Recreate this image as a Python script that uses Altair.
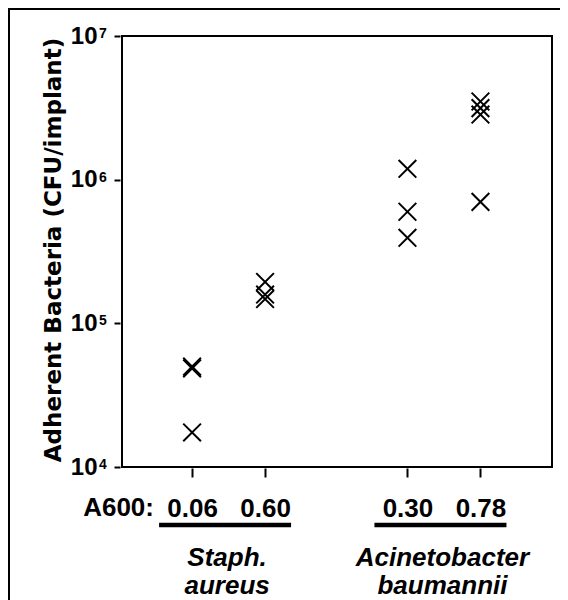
import altair as alt
import pandas as pd

# ---- data ----
group_labels = ["0.06", "0.60", "0.30", "0.78"]
group_pos = [1.0, 2.0, 3.95, 4.95]          # category slots along x
vals_006 = [50000, 48500, 17400]
vals_060 = [194000, 158700, 147600]
vals_030 = [1190000, 598000, 394000]
vals_078 = [3500000, 3150000, 2840000, 700000]

species = ["Staph.\naureus", "Acinetobacter\nbaumannii"]
species_start = [1.0, 3.95]
species_end = [2.0, 4.95]

ytick_vals = [1e4, 1e5, 1e6, 1e7]
ytick_exp = ["4", "5", "6", "7"]

all_vals = [vals_006, vals_060, vals_030, vals_078]
rows = []
for lab, pos, vs in zip(group_labels, group_pos, all_vals):
    for v in vs:
        rows.append({"group": lab, "pos": pos, "cfu": v})
pts = pd.DataFrame(rows)

sp = pd.DataFrame({"name": species, "start": species_start, "end": species_end})
yt = pd.DataFrame({"v": ytick_vals, "e": ytick_exp})

W, H = 430, 431
FONT = "Liberation Sans"

label_expr = "''"
for lab, pos in zip(group_labels, group_pos):
    label_expr = f"datum.value == {pos} ? '{lab}' : (" + label_expr + ")"

xscale = alt.Scale(domain=[0.04, 5.93], nice=False, zero=False)
yscale = alt.Scale(type="log", domain=[1e4, 1e7], nice=False)

xaxis = alt.Axis(values=group_pos, labelExpr=label_expr, title=None, grid=False,
                 domain=False, tickSize=9, offset=1, tickColor="black", tickWidth=2,
                 labelFont=FONT, labelFontSize=26, labelFontWeight="bold",
                 labelColor="black", labelPadding=18)
yaxis = alt.Axis(values=ytick_vals, labelExpr="'10'", title=None, grid=False,
                 domain=False, tickSize=6, offset=2, tickColor="black", tickWidth=2,
                 labelFont=FONT, labelFontSize=24, labelFontWeight="bold",
                 labelColor="black", labelPadding=17)

xmark = "M-1,-1L1,1M-1,1L1,-1"

points = alt.Chart(pts).mark_point(shape=xmark, size=313, filled=False,
                                   stroke="black", strokeWidth=2, opacity=1).encode(
    x=alt.X("pos:Q", scale=xscale, axis=xaxis),
    y=alt.Y("cfu:Q", scale=yscale, axis=yaxis),
)

supers = alt.Chart(yt).mark_text(font=FONT, fontSize=14, fontWeight="bold",
                                 align="left", baseline="alphabetic", dy=2,
                                 color="black").encode(
    x=alt.value(-23),
    y=alt.Y("v:Q", scale=yscale, axis=yaxis),
    text="e:N",
)

a600 = alt.Chart(pd.DataFrame({"t": ["A600:"]})).mark_text(
    font=FONT, fontSize=26, fontWeight="bold", align="right",
    baseline="alphabetic", color="black").encode(
    x=alt.value(32), y=alt.value(480), text="t:N")

underline = alt.Chart(sp).mark_rule(color="black", strokeWidth=4.5,
                                    xOffset=-33, x2Offset=26).encode(
    x=alt.X("start:Q", scale=xscale, axis=xaxis),
    x2="end:Q",
    y=alt.value(489),
)

sp_text = alt.Chart(sp).transform_calculate(
    mid="(datum.start + datum.end) / 2"
).mark_text(font=FONT, fontSize=26, fontWeight="bold", fontStyle="italic",
            lineBreak="\n", lineHeight=28, align="center", baseline="alphabetic",
            dx=-1.5, color="black").encode(
    x=alt.X("mid:Q", scale=xscale, axis=xaxis),
    y=alt.value(530),
    text="name:N",
)

ytitle = alt.Chart(pd.DataFrame({"t": ["Adherent Bacteria (CFU/implant)"]})).mark_text(
    font="DejaVu Sans", fontSize=23, fontWeight="bold", angle=270,
    align="center", baseline="middle", color="black").encode(
    x=alt.value(-68), y=alt.value(214), text="t:N")

border = alt.Chart(pd.DataFrame({"k": [0]})).mark_rect(
    filled=False, stroke="black", strokeWidth=2).encode(
    x=alt.value(-113), x2=alt.value(700), y=alt.value(-27), y2=alt.value(800))

chart = alt.layer(points, supers, a600, underline, sp_text, ytitle, border).properties(
    width=W, height=H,
    autosize=alt.AutoSizeParams(type="none"),
    padding={"left": 114, "top": 28, "right": 8, "bottom": 133},
    background="white",
).configure_view(stroke="black", strokeWidth=2)

chart.save("out.html", embed_options={"renderer": "svg", "actions": False})
